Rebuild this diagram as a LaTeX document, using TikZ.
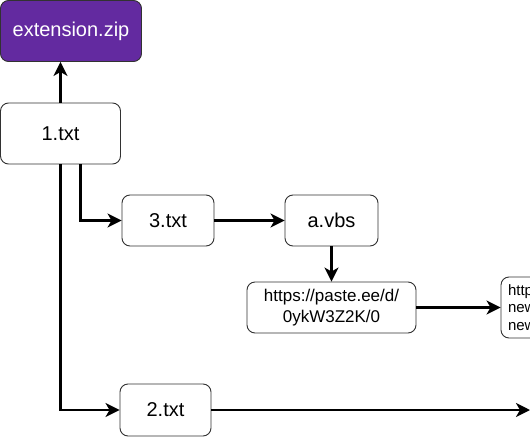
\documentclass[tikz,border=0pt]{standalone}
\usepackage{fontspec}
\setmainfont{Liberation Sans}
\usetikzlibrary{arrows.meta,calc}
\definecolor{zippurple}{RGB}{99,42,160}
\definecolor{boxline}{RGB}{50,50,50}
\tikzset{
  box/.style={draw=boxline, line width=0.9pt, rounded corners=8pt, fill=white,
    inner sep=0pt, align=center, font=\fontsize{20}{24}\selectfont},
  conn/.style={line width=2.6pt, -{Stealth[length=14pt,width=14pt,inset=4pt]}}
}
\begin{document}
\begin{tikzpicture}[x=1pt,y=-1pt]
\clip (0,0) rectangle (530,442);
\fill[white] (0,0) rectangle (530,442);
\node[box, fill=zippurple, text=white, minimum width=141pt, minimum height=61pt] (zip) at (71,31) {extension.zip};
\node[box, minimum width=120pt, minimum height=61pt] (t1) at (60.5,133.5) {1.txt};
\node[box, minimum width=92pt, minimum height=51pt] (t3) at (168,220.5) {3.txt};
\node[box, minimum width=93pt, minimum height=51pt] (vbs) at (331.5,220.5) {a.vbs};
\node[box, minimum width=169pt, minimum height=51pt, font=\fontsize{17}{21}\selectfont] (url) at (331.5,307.5) {https://paste.ee/d/\\0ykW3Z2K/0};
\node[box, minimum width=100pt, minimum height=61pt, align=left, text width=86pt, font=\fontsize{15}{17.5}\selectfont] (far) at (551,307.5) {http\\new\\new};
\node[box, minimum width=91pt, minimum height=52pt] (t2) at (165.5,410) {2.txt};
\coordinate (edge) at (530,410);
\draw[conn] (t1.north) -- (t1.north |- zip.south);
\draw[conn] ($(t1.south)+(20,0)$) |- (t3.west);
\draw[conn] (t1.south) |- (t2.west);
\draw[conn] (t3.east) -- (vbs.west);
\draw[conn] (vbs.south) -- (url.north);
\draw[conn] (url.east) -- (far.west);
\draw[conn] (t2.east) -- (edge);
\end{tikzpicture}
\end{document}
